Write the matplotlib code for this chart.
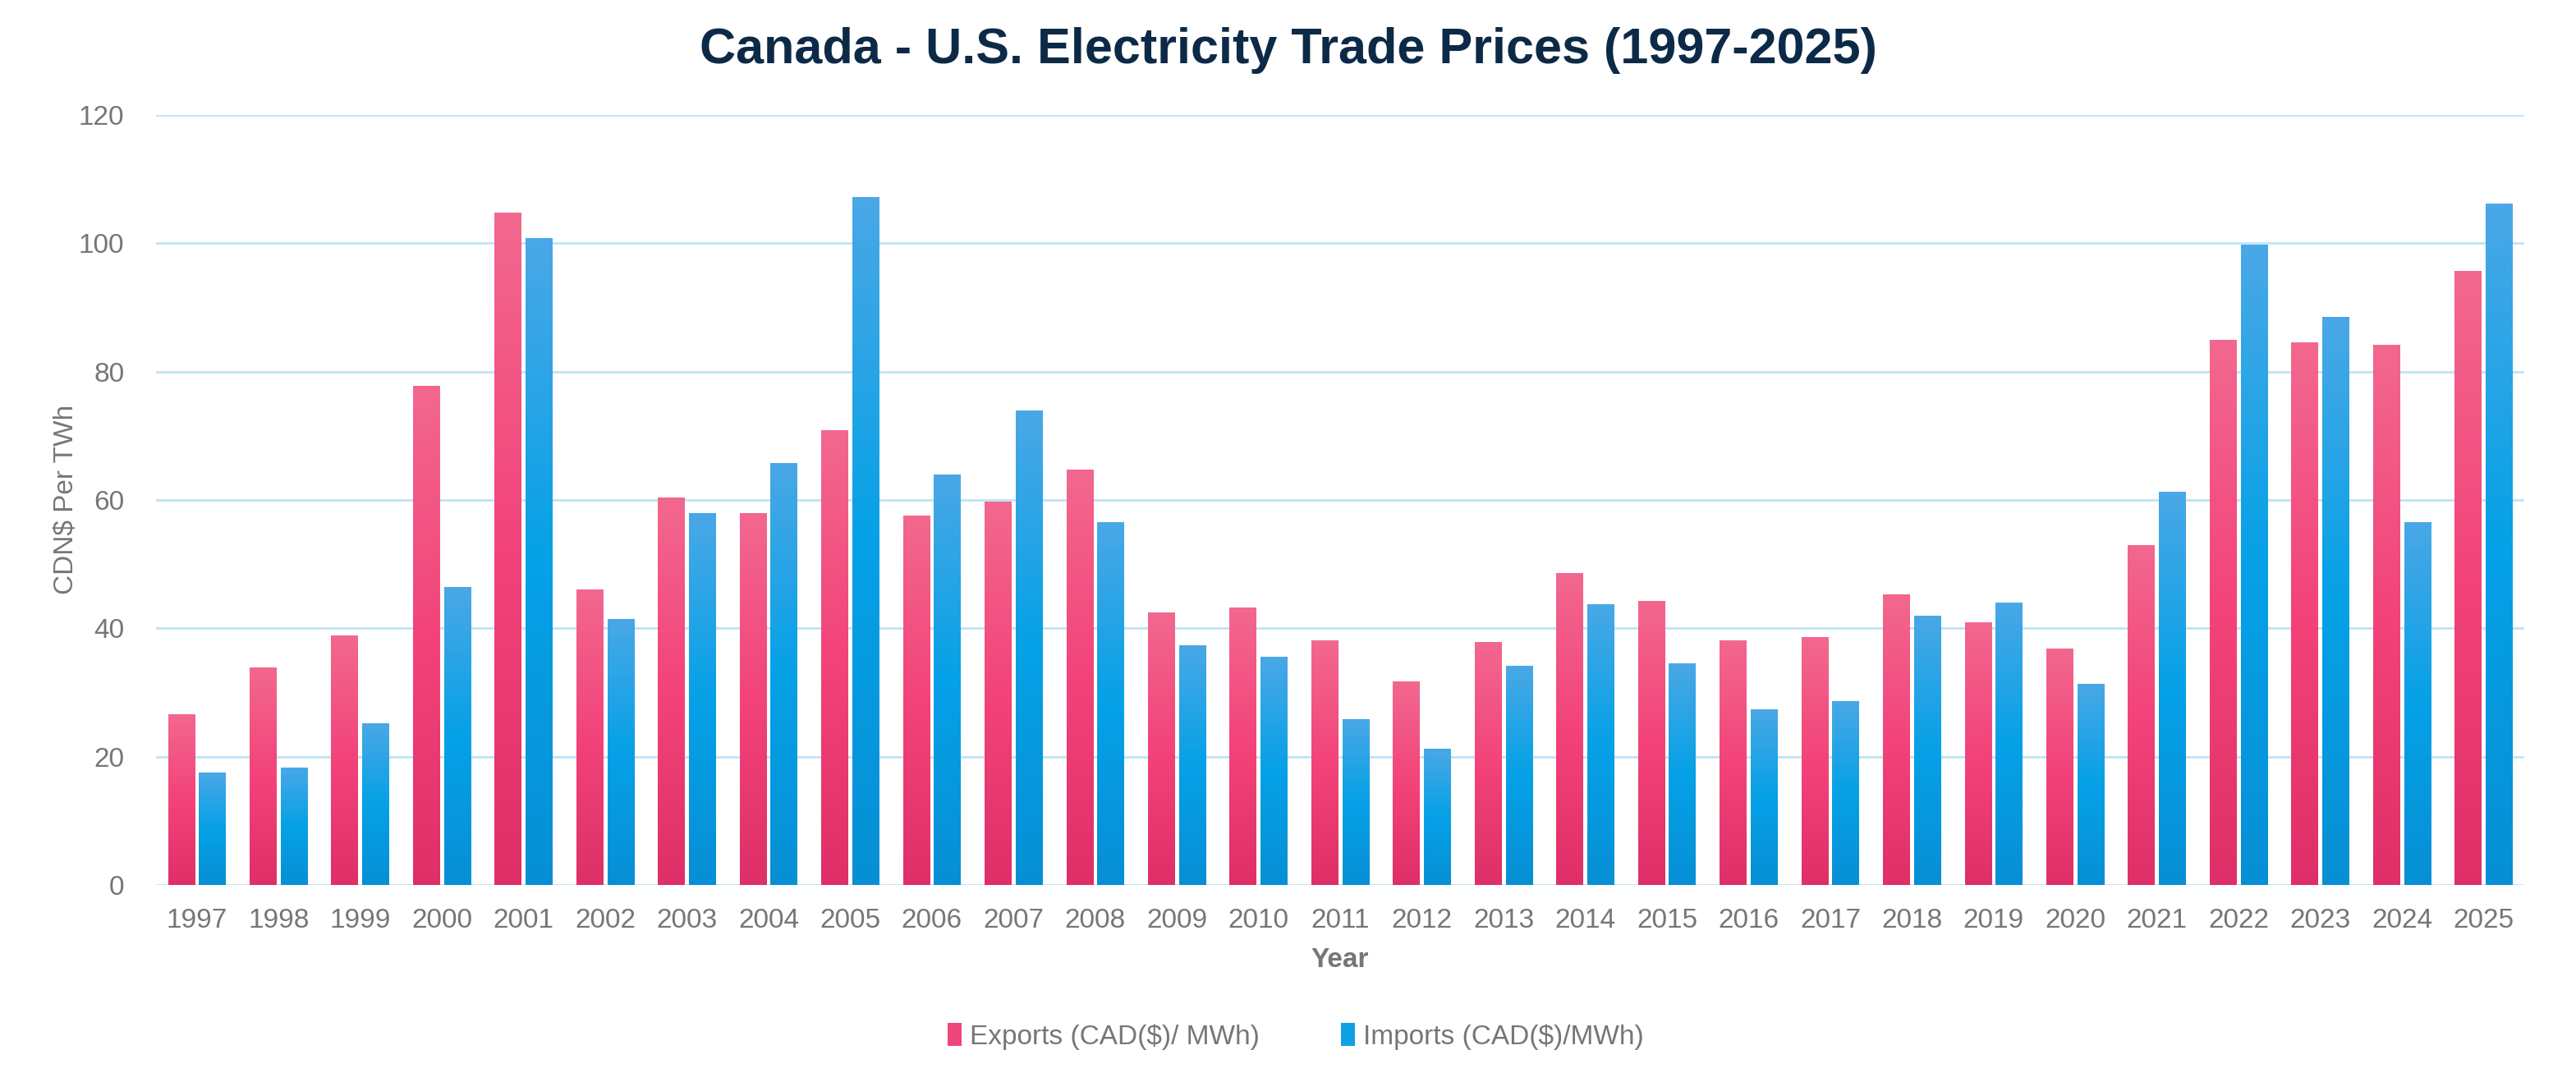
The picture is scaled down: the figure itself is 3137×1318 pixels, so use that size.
import numpy as np
import matplotlib
matplotlib.use("Agg")
import matplotlib.pyplot as plt
from matplotlib.colors import LinearSegmentedColormap
from matplotlib.patches import Patch

years = [str(y) for y in range(1997, 2026)]
exports = [26.6, 33.9, 38.9, 77.8, 104.8, 46.1, 60.4, 57.9, 70.9, 57.6,
           59.7, 64.7, 42.5, 43.2, 38.1, 31.7, 37.9, 48.6, 44.3, 38.1,
           38.6, 45.3, 40.9, 36.8, 53.0, 84.9, 84.6, 84.2, 95.7]
imports = [17.5, 18.3, 25.2, 46.4, 100.8, 41.5, 57.9, 65.8, 107.2, 64.0,
           73.9, 56.6, 37.4, 35.6, 25.9, 21.2, 34.2, 43.8, 34.5, 27.4,
           28.7, 42.0, 44.0, 31.4, 61.3, 99.7, 88.5, 56.6, 106.1]

plt.rcParams['font.family'] = ['Liberation Sans', 'DejaVu Sans']

gray = "#767676"
pink_cmap = LinearSegmentedColormap.from_list("pink", ["#de2f68", "#f3437a", "#f2688f"])
blue_cmap = LinearSegmentedColormap.from_list("blue", ["#078fd5", "#05a1e7", "#4aa8e6"])

fig = plt.figure(figsize=(15.685, 6.59), dpi=200)
ax = fig.add_axes([0.0606, 0.182, 0.9194, 0.712])

x = np.arange(len(years))
w = 0.33
off = 0.19
grad = np.linspace(0, 1, 256).reshape(-1, 1)


def gradient_bars(vals, xs, cmap):
    # transparent bars, filled with a vertical gradient clipped to each bar
    bars = ax.bar(xs, vals, width=w, color="none", edgecolor="none", zorder=3)
    for b in bars:
        x0 = b.get_x()
        im = ax.imshow(grad, extent=[x0, x0 + b.get_width(), 0, b.get_height()],
                       origin="lower", aspect="auto", cmap=cmap, zorder=3)
        im.set_clip_path(b)
    return bars


gradient_bars(exports, x - off, pink_cmap)
gradient_bars(imports, x + off, blue_cmap)

ax.set_xlim(-0.5, len(years) - 0.5)
ax.set_ylim(0, 120)
ax.set_yticks(range(0, 121, 20))
ax.set_xticks(x)
ax.set_xticklabels(years)
ax.yaxis.grid(True, color="#bfe4f6", linewidth=1.0, zorder=0)
ax.set_axisbelow(True)
for s in ax.spines.values():
    s.set_visible(False)
ax.tick_params(length=0, labelsize=12, labelcolor=gray, pad=10)
ax.tick_params(axis="y", pad=14)

ax.set_xlabel("Year", fontsize=12, color=gray, fontweight="bold", labelpad=6)
ax.set_ylabel("CDN$ Per TWh", fontsize=12, color=gray, labelpad=0)

fig.suptitle("Canada - U.S. Electricity Trade Prices (1997-2025)", fontsize=22,
             fontweight="bold", color="#0c2a47", y=0.953, va="center")

handles = [Patch(facecolor="#f0457a", label="Exports (CAD($)/ MWh)"),
           Patch(facecolor="#0fa0e6", label="Imports (CAD($)/MWh)")]
fig.legend(handles=handles, loc="center", bbox_to_anchor=(0.503, 0.042), ncol=2,
           frameon=False, fontsize=12, labelcolor=gray, handlelength=0.5,
           handleheight=0.9, handletextpad=0.3, columnspacing=3.0)

fig.savefig("out.png", dpi=200)
